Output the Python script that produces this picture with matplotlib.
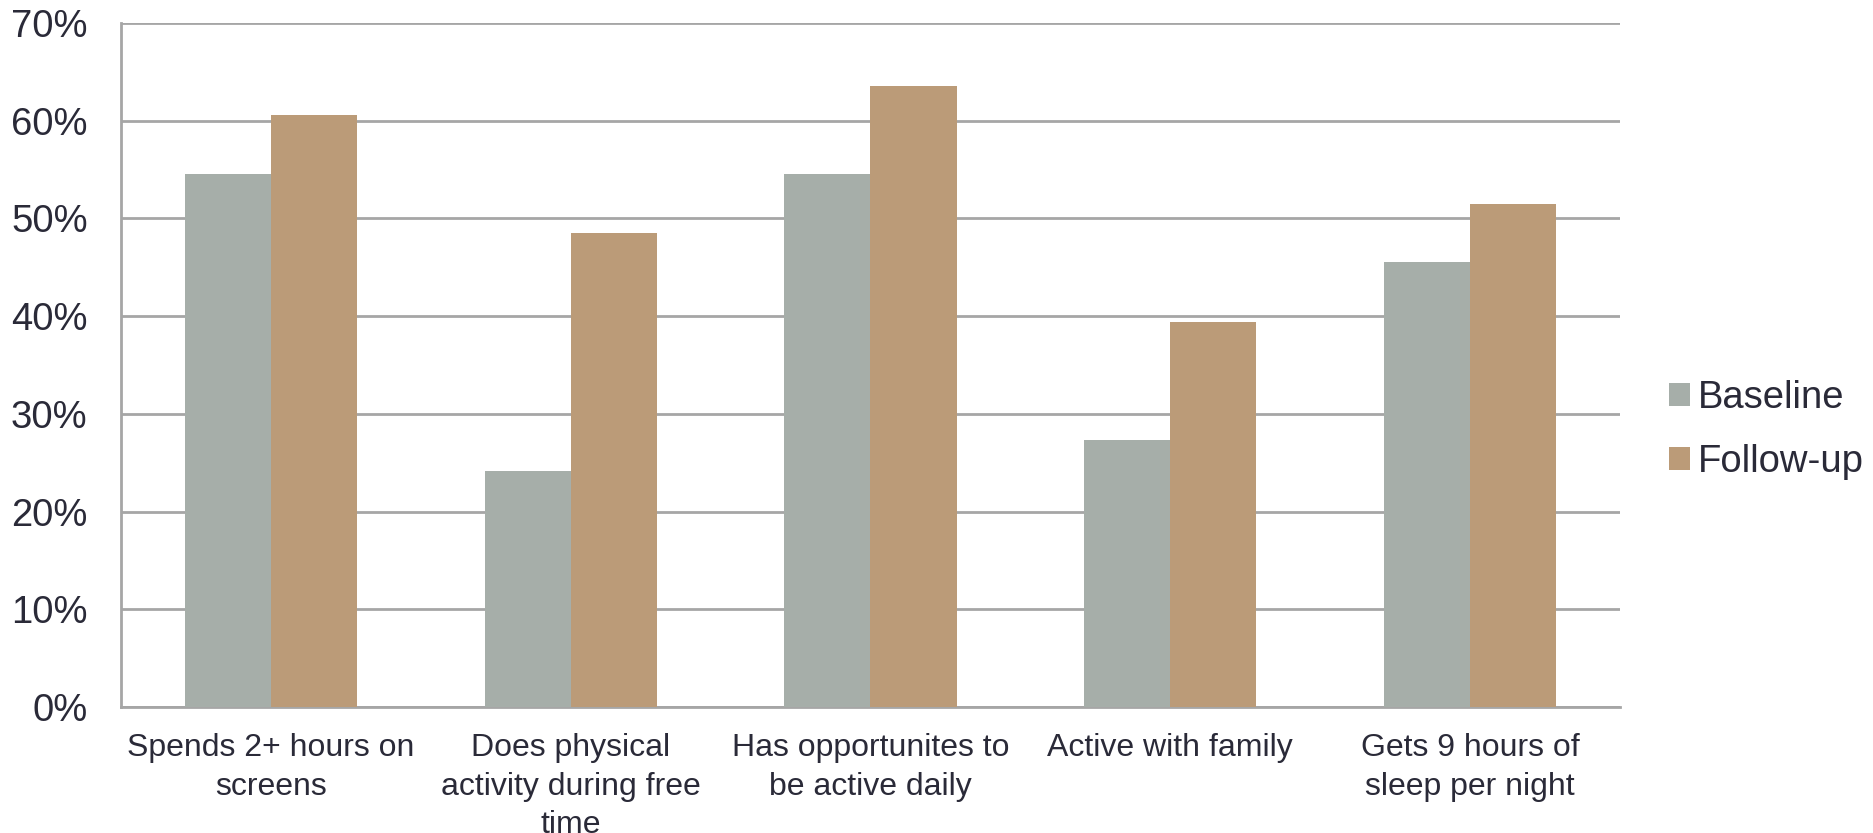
import matplotlib.pyplot as plt
import numpy as np
from matplotlib.ticker import FuncFormatter

categories = ["Spends 2+ hours on\nscreens",
              "Does physical\nactivity during free\ntime",
              "Has opportunites to\nbe active daily",
              "Active with family",
              "Gets 9 hours of\nsleep per night"]
baseline = [54.5, 24.2, 54.5, 27.3, 45.5]
follow_up = [60.6, 48.5, 63.6, 39.4, 51.5]
series_names = ["Baseline", "Follow-up"]

text_color = "#2a2a38"
grid_color = "#a6a6a6"
plt.rcParams["font.family"] = ["Liberation Sans", "DejaVu Sans"]

fig = plt.figure(figsize=(18.73, 8.33), dpi=100)
ax = fig.add_axes([0.0646, 0.1513, 0.8003, 0.8211])

x = np.arange(len(categories))
w = 0.287
ax.bar(x - w / 2, baseline, w, color="#a6aea9", label=series_names[0], zorder=3)
ax.bar(x + w / 2, follow_up, w, color="#bb9b78", label=series_names[1], zorder=3)

ax.set_xlim(-0.5, len(categories) - 0.5)
ax.set_ylim(0, 70)
ax.set_yticks(np.arange(0, 71, 10))
ax.yaxis.set_major_formatter(FuncFormatter(lambda v, p: f"{v:.0f}%"))
ax.grid(axis="y", color=grid_color, linewidth=2, zorder=0)
ax.set_axisbelow(True)

for s in ["top", "right"]:
    ax.spines[s].set_visible(False)
for s in ["left", "bottom"]:
    ax.spines[s].set_color(grid_color)
    ax.spines[s].set_linewidth(2)

ax.tick_params(axis="y", length=0, pad=24, labelsize=27.5, labelcolor=text_color)
ax.tick_params(axis="x", length=0, pad=19)
ax.set_xticks(x)
ax.set_xticklabels(categories, fontsize=23, color=text_color, linespacing=1.36)

leg = ax.legend(loc="center left", bbox_to_anchor=(1.01, 0.405), frameon=False,
                prop={"size": 27.5},
                handlelength=0.55, handleheight=0.55, handletextpad=0.2,
                labelspacing=0.74)
for t in leg.get_texts():
    t.set_color(text_color)

fig.savefig("out.png", dpi=100)
